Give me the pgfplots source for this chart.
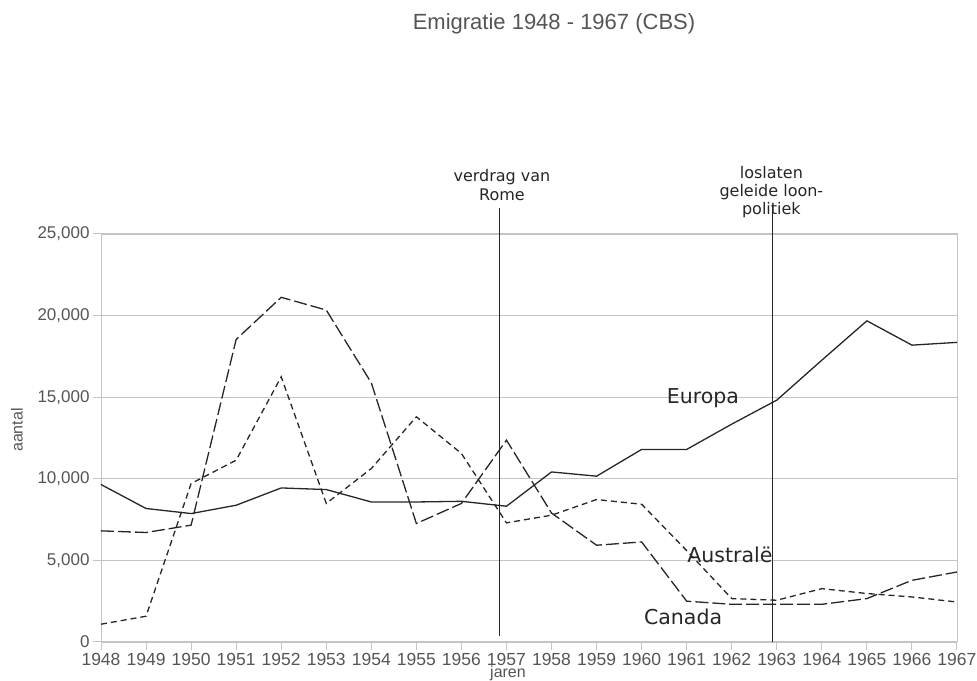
\documentclass[border=0pt]{standalone}
\usepackage{fontspec}
\setmainfont{Liberation Sans}
\newfontfamily\dejavu{DejaVu Sans}
\usepackage{pgfplots}
\pgfplotsset{compat=1.18}
\definecolor{gridgray}{HTML}{C4C4C4}
\definecolor{txtgray}{HTML}{555555}
\definecolor{linec}{HTML}{262626}

\begin{document}
\begin{tikzpicture}
\useasboundingbox (0pt,0pt) rectangle (977pt,680pt);
\begin{axis}[
  at={(101pt,38pt)}, anchor=south west,
  scale only axis, width=856pt, height=408pt,
  xmin=1948, xmax=1967, ymin=0, ymax=25000,
  xtick={1948,1949,...,1967}, ytick={0,5000,...,25000},
  clip=false,
  axis line style={gridgray, line width=1pt},
  ymajorgrids, grid style={gridgray, line width=1.2pt},
  tick align=outside, major tick length=8pt,
  tick style={gridgray, line width=1pt},
  xtick pos=left, ytick pos=left,
  scaled y ticks=false,
  /pgf/number format/assume math mode=true,
  x tick label style={/pgf/number format/1000 sep={}, font=\fontsize{17.5}{20}\selectfont, text=txtgray},
  y tick label style={/pgf/number format/1000 sep={,}, font=\fontsize{17}{20}\selectfont, text=txtgray},
]
% Europa
\addplot[linec, line width=1.3pt] coordinates {
(1948,9650)(1949,8180)(1950,7870)(1951,8380)(1952,9440)(1953,9340)(1954,8580)(1955,8580)(1956,8620)(1957,8320)
(1958,10420)(1959,10160)(1960,11800)(1961,11800)(1962,13350)(1963,14820)(1964,17270)(1965,19680)(1966,18190)(1967,18360)};
% Canada
\addplot[linec, line width=1.3pt, dash pattern=on 13pt off 4pt] coordinates {
(1948,6810)(1949,6710)(1950,7160)(1951,18540)(1952,21120)(1953,20340)(1954,15880)(1955,7260)(1956,8490)(1957,12370)
(1958,7900)(1959,5930)(1960,6130)(1961,2500)(1962,2310)(1963,2310)(1964,2310)(1965,2660)(1966,3780)(1967,4290)};
% Australie
\addplot[linec, line width=1.3pt, dash pattern=on 6pt off 4pt] coordinates {
(1948,1090)(1949,1580)(1950,9710)(1951,11140)(1952,16250)(1953,8490)(1954,10630)(1955,13800)(1956,11550)(1957,7300)
(1958,7770)(1959,8730)(1960,8440)(1961,5600)(1962,2660)(1963,2560)(1964,3270)(1965,2970)(1966,2760)(1967,2450)};
% event lines
\addplot[linec, line width=1.4pt] coordinates {(1956.84,370)(1956.84,26590)};
\addplot[linec, line width=1.4pt] coordinates {(1962.91,0)(1962.91,26770)};
% annotations
\node[font=\dejavu\fontsize{16}{19}\selectfont, align=center, text=linec] at (axis cs:1956.9,28000) {verdrag van\\Rome};
\node[font=\dejavu\fontsize{16}{18}\selectfont, align=center, text=linec] at (axis cs:1962.88,27570) {loslaten\\geleide loon-\\politiek};
\node[font=\dejavu\fontsize{20.5}{24}\selectfont, text=linec] at (axis cs:1961.36,14940) {Europa};
\node[font=\dejavu\fontsize{20.5}{24}\selectfont, text=linec] at (axis cs:1961.96,5320) {Australë};
\node[font=\dejavu\fontsize{20.5}{24}\selectfont, text=linec] at (axis cs:1960.92,1515) {Canada};
\end{axis}
\node[font=\fontsize{22}{26}\selectfont, text=txtgray] at (554pt,656pt) {Emigratie 1948 - 1967 (CBS)};
\node[font=\fontsize{16}{19}\selectfont, text=txtgray, rotate=90] at (17pt,250pt) {aantal};
\node[font=\fontsize{16}{19}\selectfont, text=txtgray] at (508pt,7pt) {jaren};
\end{tikzpicture}
\end{document}
